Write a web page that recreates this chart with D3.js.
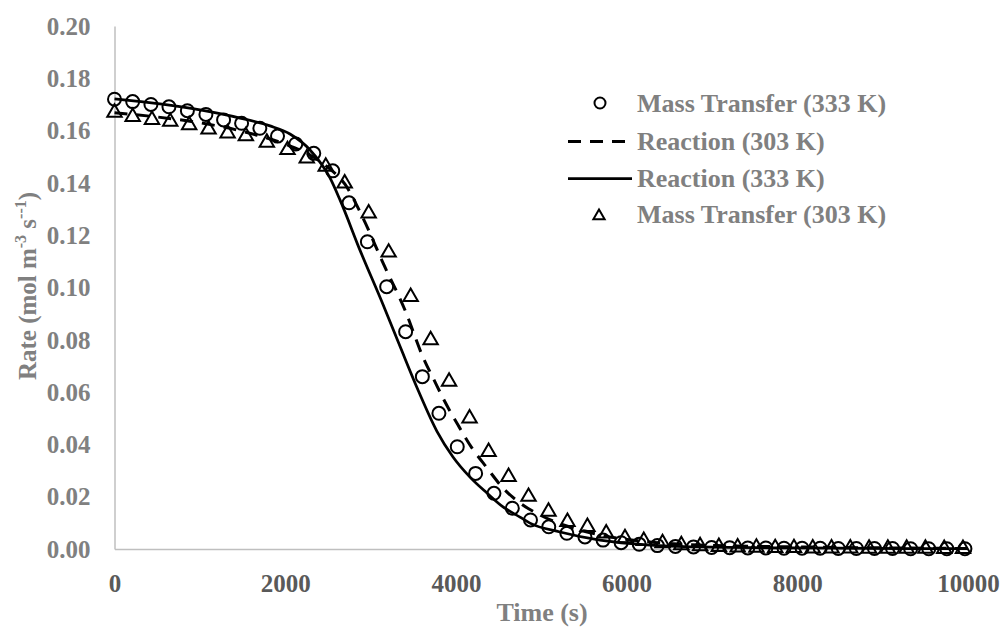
<!DOCTYPE html>
<html><head><meta charset="utf-8">
<script src="https://cdn.jsdelivr.net/npm/d3@7"></script>
<style>
html,body{margin:0;padding:0;background:#fff;}
svg{display:block;}
text{font-family:"Liberation Serif","Times New Roman",serif;font-weight:bold;}
</style></head>
<body><svg id="c" width="1003" height="633"></svg>
<script>
// ---- data ----
const xTicks = [0, 2000, 4000, 6000, 8000, 10000];
const yTicks = [0, 0.02, 0.04, 0.06, 0.08, 0.10, 0.12, 0.14, 0.16, 0.18, 0.20];

// Mass Transfer (333 K) - circles
const mt333T = [0,213,427,638,854,1071,1278,1489,1703,1910,2124,2335,2557,2748,2963,3189,3411,3607,3801,4016,4231,4446,4661,4874,5088,5300,5512,5724,5936,6148,6360,6572,6784,6996,7208,7420,7632,7844,8056,8268,8480,8692,8904,9116,9328,9540,9752,9964];
const mt333V = [0.1720,0.1711,0.1700,0.1691,0.1676,0.1662,0.1641,0.1628,0.1609,0.1579,0.1549,0.1513,0.1446,0.1324,0.1175,0.1003,0.0831,0.0659,0.0519,0.0391,0.0289,0.0213,0.0156,0.0111,0.0085,0.0060,0.0046,0.0034,0.0024,0.0018,0.0013,0.0010,0.0008,0.0006,0.0005,0.0004,0.0004,0.0003,0.0003,0.0003,0.0002,0.0002,0.0002,0.0002,0.0001,0.0001,0.0001,0.0001];

// Mass Transfer (303 K) - triangles
const mt303T = [0,213,439,653,875,1102,1325,1539,1785,2027,2253,2475,2697,2978,3212,3470,3704,3920,4160,4383,4617,4851,5085,5307,5541,5761,5981,6201,6421,6641,6861,7081,7301,7521,7741,7961,8181,8401,8621,8841,9061,9281,9501,9721,9941];
const mt303V = [0.1669,0.1653,0.1641,0.1634,0.1621,0.1605,0.1590,0.1579,0.1554,0.1526,0.1494,0.1462,0.1398,0.1284,0.1134,0.0964,0.0799,0.0640,0.0500,0.0372,0.0276,0.0200,0.0143,0.0104,0.0085,0.0060,0.0042,0.0031,0.0023,0.0015,0.0011,0.0008,0.0006,0.0005,0.0004,0.0004,0.0003,0.0003,0.0003,0.0002,0.0002,0.0002,0.0002,0.0001,0.0001];

// Reaction (303 K) - dashed line
const r303T = [0,500,1000,1500,2000,2300,2500,2700,2911,3146,3403,3614,3755,3873,4025,4189,4365,4552,4751,4985,5336,5688,6274,6860,8032,10000];
const r303V = [0.1668,0.1652,0.1630,0.1597,0.1548,0.1505,0.1460,0.1395,0.1266,0.1094,0.0914,0.0734,0.0639,0.0562,0.0474,0.0386,0.0310,0.0233,0.0176,0.0130,0.0084,0.0054,0.0027,0.0015,0.0008,0.0002];

// Reaction (333 K) - solid line
const r333T = [0,533,1002,1470,1822,2056,2291,2525,2642,2876,3146,3345,3560,3778,3966,4165,4364,4552,4751,4868,5220,5688,6274,6860,8032,10000];
const r333V = [0.1721,0.1702,0.1679,0.1648,0.1618,0.1587,0.1526,0.1419,0.1335,0.1143,0.0935,0.0775,0.0605,0.0450,0.0352,0.0275,0.0214,0.0161,0.0122,0.0099,0.0065,0.0034,0.0015,0.0008,0.0004,0.0001];

const legendLabels = ["Mass Transfer (333 K)", "Reaction (303 K)", "Reaction (333 K)", "Mass Transfer (303 K)"];

// ---- chart ----
const svg = d3.select("#c");
const x = d3.scaleLinear().domain([0, 10000]).range([114.5, 968]);
const y = d3.scaleLinear().domain([0, 0.2]).range([549, 26]);

const zip = (a, b) => a.map((t, i) => [t, b[i]]);

// axes
const xAxis = svg.append("g").attr("transform", `translate(0,${y(0)})`)
  .call(d3.axisBottom(x).tickValues(xTicks).tickSize(0).tickPadding(24).tickFormat(d3.format("d")));
xAxis.select(".domain").attr("stroke", "#bfbfbf").attr("stroke-width", 1.5);
xAxis.selectAll("text").attr("fill", "#595959").attr("font-size", 25).attr("dy", null).attr("y", 43);

const yAxis = svg.append("g").attr("transform", `translate(${x(0)},0)`)
  .call(d3.axisLeft(y).tickValues(yTicks).tickSize(0).tickPadding(24).tickFormat(d3.format(".2f")));
yAxis.select(".domain").attr("stroke", "#bfbfbf").attr("stroke-width", 1.5);
yAxis.selectAll("text").attr("fill", "#808080").attr("font-size", 25).attr("x", -24).attr("dy", "0.33em");

// axis titles
svg.append("text").attr("x", 542).attr("y", 621).attr("text-anchor", "middle")
  .attr("fill", "#808080").attr("font-size", 26).text("Time (s)");

const yt = svg.append("text").attr("transform", "translate(36,286) rotate(-90)")
  .attr("text-anchor", "middle").attr("fill", "#808080").attr("font-size", 25);
yt.append("tspan").text("Rate (mol m");
yt.append("tspan").attr("font-size", 16).attr("dy", -10).text("-3");
yt.append("tspan").attr("dy", 10).text(" s");
yt.append("tspan").attr("font-size", 16).attr("dy", -10).text("--1");
yt.append("tspan").attr("dy", 10).text(")");

// lines
const line = d3.line().x(d => x(d[0])).y(d => y(d[1])).curve(d3.curveMonotoneX);
svg.append("path").datum(zip(r333T, r333V)).attr("d", line)
  .attr("fill", "none").attr("stroke", "#000").attr("stroke-width", 2.75);
svg.append("path").datum(zip(r303T, r303V)).attr("d", line)
  .attr("fill", "none").attr("stroke", "#000").attr("stroke-width", 3).attr("stroke-dasharray", "13,9");

// markers
svg.append("g").selectAll("circle").data(zip(mt333T, mt333V)).join("circle")
  .attr("cx", d => x(d[0])).attr("cy", d => y(d[1])).attr("r", 6.5)
  .attr("fill", "none").attr("stroke", "#000").attr("stroke-width", 2);
const tri = d3.symbol().type(d3.symbolTriangle).size(90);
svg.append("g").selectAll("path").data(zip(mt303T, mt303V)).join("path")
  .attr("transform", d => `translate(${x(d[0])},${y(d[1])})`).attr("d", tri)
  .attr("fill", "none").attr("stroke", "#000").attr("stroke-width", 2);

// legend
const lg = svg.append("g");
const rowsY = [112, 149.5, 186.5, 223];
const lx = 637;
lg.selectAll("text").data(legendLabels).join("text")
  .attr("x", lx).attr("y", (d, i) => rowsY[i]).attr("fill", "#808080").attr("font-size", 26).text(d => d);
lg.append("circle").attr("cx", 600).attr("cy", rowsY[0] - 9).attr("r", 5.5)
  .attr("fill", "none").attr("stroke", "#000").attr("stroke-width", 2);
lg.append("line").attr("x1", 568).attr("x2", 632).attr("y1", rowsY[1] - 8).attr("y2", rowsY[1] - 8)
  .attr("stroke", "#000").attr("stroke-width", 3).attr("stroke-dasharray", "13,9");
lg.append("line").attr("x1", 568).attr("x2", 632).attr("y1", rowsY[2] - 8).attr("y2", rowsY[2] - 8)
  .attr("stroke", "#000").attr("stroke-width", 2.75);
lg.append("path").attr("transform", `translate(599,${rowsY[3] - 7})`)
  .attr("d", d3.symbol().type(d3.symbolTriangle).size(55))
  .attr("fill", "none").attr("stroke", "#000").attr("stroke-width", 2);
</script></body></html>
